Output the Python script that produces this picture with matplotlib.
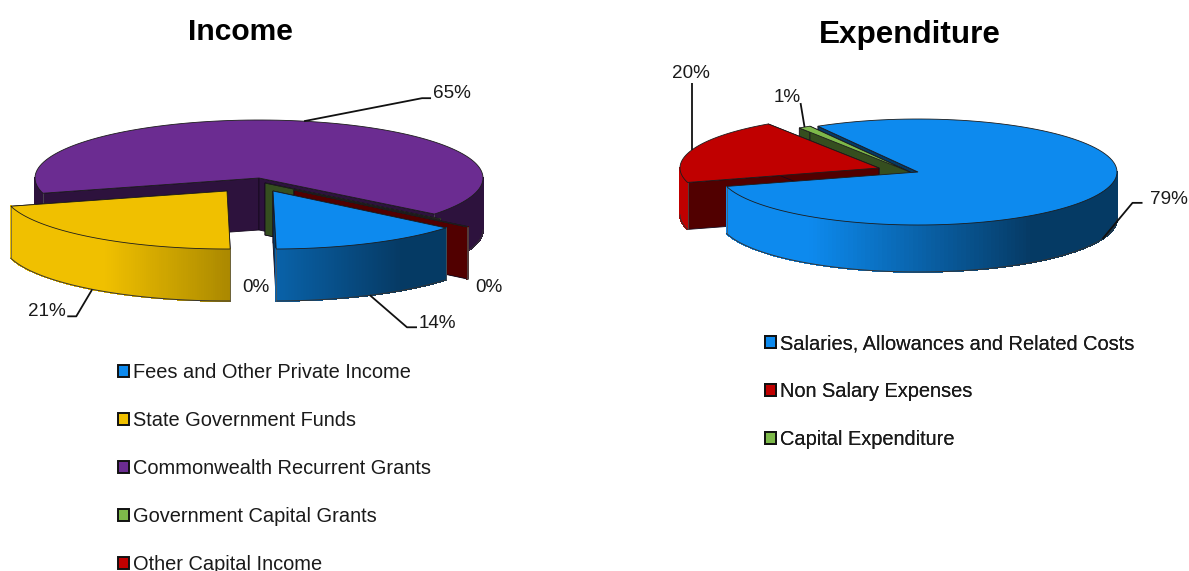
import numpy as np
import matplotlib
matplotlib.use("Agg")
import matplotlib.pyplot as plt
from matplotlib.patches import Patch, Polygon
from matplotlib.collections import PolyCollection
from matplotlib.colors import to_rgb

plt.rcParams['font.family'] = ['Liberation Sans', 'DejaVu Sans']

# ---- data ----
income_labels = ["Fees and Other Private Income", "State Government Funds",
                 "Commonwealth Recurrent Grants", "Government Capital Grants",
                 "Other Capital Income"]
income_values = [13.8, 21.0, 64.9, 0.2, 0.1]
income_colors = ["#0D8AEE", "#F0C000", "#6B2C91", "#7DB94A", "#C00000"]

spend_labels = ["Salaries, Allowances and Related Costs", "Non Salary Expenses",
                "Capital Expenditure"]
spend_values = [79.0, 20.0, 1.0]
spend_colors = ["#0D8AEE", "#C00000", "#7DB94A"]

# ---- layout (pixels) ----
income_geom = dict(start=-39.5, rx=224, ry=58, depth=52)
income_apex = [(273, 191), (227, 191), (259, 178), (265, 183), (294, 190)]
income_steps = [(2, 'walls'), (2, 'flat'), (3, 'walls'), (3, 'body'), (4, 'walls'), (4, 'body'),
                (1, 'walls'), (1, 'body'), (0, 'walls'), (0, 'body')]
income_label_pos = [(419, 324, 'left'), (66, 312, 'right'), (433, 94, 'left'),
                    (256, 287, 'center'), (489, 288, 'center')]
income_leader = [[(37, 32), (47, 32)], [(-16, 27), (-25, 27)], [(118, -23), (127, -23)],
                 None, None]

spend_geom = dict(start=120.2, rx=199, ry=53, depth=47)
spend_apex = [(918, 172), (879, 168), (910, 172)]
spend_steps = [(0, 'walls'), (2, 'walls'), (2, 'body'), (1, 'walls'), (1, 'body'), (0, 'body')]
spend_label_pos = [(1150, 199, 'left'), (691, 74, 'center'), (787, 98, 'center')]
spend_leader = [[(30, -36), (40, -36)], [(0, -67), (0, -67)], [(-4, -24), (-4, -24)]]

SHADE = 0.42
fig = plt.figure(figsize=(11.89, 5.71), dpi=100)
ax = fig.add_axes([0, 0, 1, 1])
ax.set_xlim(0, 1189)
ax.set_ylim(571, 0)
ax.axis('off')
z = [1]


def nz():
    z[0] += 1
    return z[0]


def angles(values, start):
    edges = start - np.cumsum([0] + list(values)) * 3.6
    return list(zip(edges[:-1], edges[1:]))


def pt(apex, t, g, drop=0.0):
    r = np.radians(t)
    return (apex[0] + g['rx'] * np.cos(r), apex[1] - g['ry'] * np.sin(r) + drop)


def arc(apex, hi, lo, g, drop=0.0, n=120):
    ts = np.linspace(hi, lo, n)
    return [pt(apex, t, g, drop) for t in ts]


def wall_pieces(hi, lo):
    """Parts of the slice's rim on the front half of the ellipse (t in 180..360)."""
    parts = []
    for k in (-1, 0, 1):
        a, b = 0 + 360 * k, -180 + 360 * k
        h, l = min(hi, a), max(lo, b)
        if h > l:
            parts.append((h, l))
    return parts


def draw_walls(apex, hi, lo, color, g):
    dark = np.array(to_rgb(color)) * SHADE
    d = g['depth']
    for t in (hi, lo):
        out = pt(apex, t, g)
        poly = [apex, out, (out[0], out[1] + d), (apex[0], apex[1] + d)]
        ax.add_patch(Polygon(poly, closed=True, fc=dark, ec='#14091c', lw=0.6, zorder=nz()))


def draw_body(apex, hi, lo, color, g, flat=False):
    base = np.array(to_rgb(color))
    dark = base * SHADE
    d = g['depth']
    for h, l in wall_pieces(hi, lo):
        ts = np.linspace(h, l, 130)
        quads, cols = [], []
        for a, b in zip(ts[:-1], ts[1:]):
            p1, p2 = pt(apex, a, g), pt(apex, b, g)
            quads.append([p1, p2, (p2[0], p2[1] + d), (p1[0], p1[1] + d)])
            u = ((p1[0] + p2[0]) / 2 - apex[0]) / g['rx']
            w = 1.0 if flat else np.clip((u + 0.55) / 1.12, 0, 1)
            cols.append(base * (1 - w) + dark * w)
        ax.add_collection(PolyCollection(quads, facecolors=cols, edgecolors=cols, linewidths=0.6,
                                         antialiaseds=False, zorder=nz()))
        ax.plot(*zip(*arc(apex, h, l, g, d)), color='#333333', lw=0.7, zorder=nz())
        for t in (h, l):
            if abs(np.sin(np.radians(t))) > 1e-6:
                p = pt(apex, t, g)
                ax.plot([p[0], p[0]], [p[1], p[1] + d], color='#555555', lw=0.5, zorder=nz())
    top = [apex] + arc(apex, hi, lo, g)
    ax.add_patch(Polygon(top, closed=True, fc=base, ec='#1c1c1c', lw=0.6, zorder=nz()))


def draw_pie(values, colors, apexes, steps, g, label_pos, leaders):
    sp = angles(values, g['start'])
    for i, what in steps:
        if what == 'walls':
            draw_walls(apexes[i], sp[i][0], sp[i][1], colors[i], g)
        else:
            draw_body(apexes[i], sp[i][0], sp[i][1], colors[i], g, flat=(what == 'flat'))
    for i, v in enumerate(values):
        x, y, ha = label_pos[i]
        ax.text(x, y, f"{round(v)}%", ha=ha, va='center', fontsize=13.6, color='#1a1a1a', zorder=500)
        if leaders[i] is None:
            continue
        mid = (sp[i][0] + sp[i][1]) / 2
        drop = g['depth'] if np.sin(np.radians(mid)) < 0 else 0
        a = pt(apexes[i], mid, g, drop)
        xs = [a[0]] + [a[0] + dx for dx, _ in leaders[i]]
        ys = [a[1]] + [a[1] + dy for _, dy in leaders[i]]
        ax.plot(xs, ys, color='#111111', lw=1.3, zorder=499, solid_capstyle='butt')


def draw_legend(labels, colors, x, y):
    handles = [Patch(fc=c, ec='#111111', lw=1.4) for c in colors]
    leg = ax.legend(handles, labels, loc='upper left', bbox_to_anchor=(x, y),
                    bbox_transform=ax.transData, frameon=False, fontsize=14.4,
                    labelspacing=1.45, handlelength=0.57, handleheight=0.57,
                    handletextpad=0.16, borderpad=0, borderaxespad=0,
                    labelcolor='#1a1a1a')
    leg.set_zorder(600)
    ax.add_artist(leg)


draw_pie(income_values, income_colors, income_apex, income_steps, income_geom,
         income_label_pos, income_leader)
draw_pie(spend_values, spend_colors, spend_apex, spend_steps, spend_geom,
         spend_label_pos, spend_leader)

ax.text(240.5, 31.5, "Income", ha='center', va='center', fontsize=21.6, fontweight='bold', color='black')
ax.text(909.5, 35, "Expenditure", ha='center', va='center', fontsize=22.6, fontweight='bold', color='black')

draw_legend(income_labels, income_colors, 118, 363)
draw_legend(spend_labels, spend_colors, 765, 334)

fig.savefig("out.png", dpi=100, facecolor='white')
